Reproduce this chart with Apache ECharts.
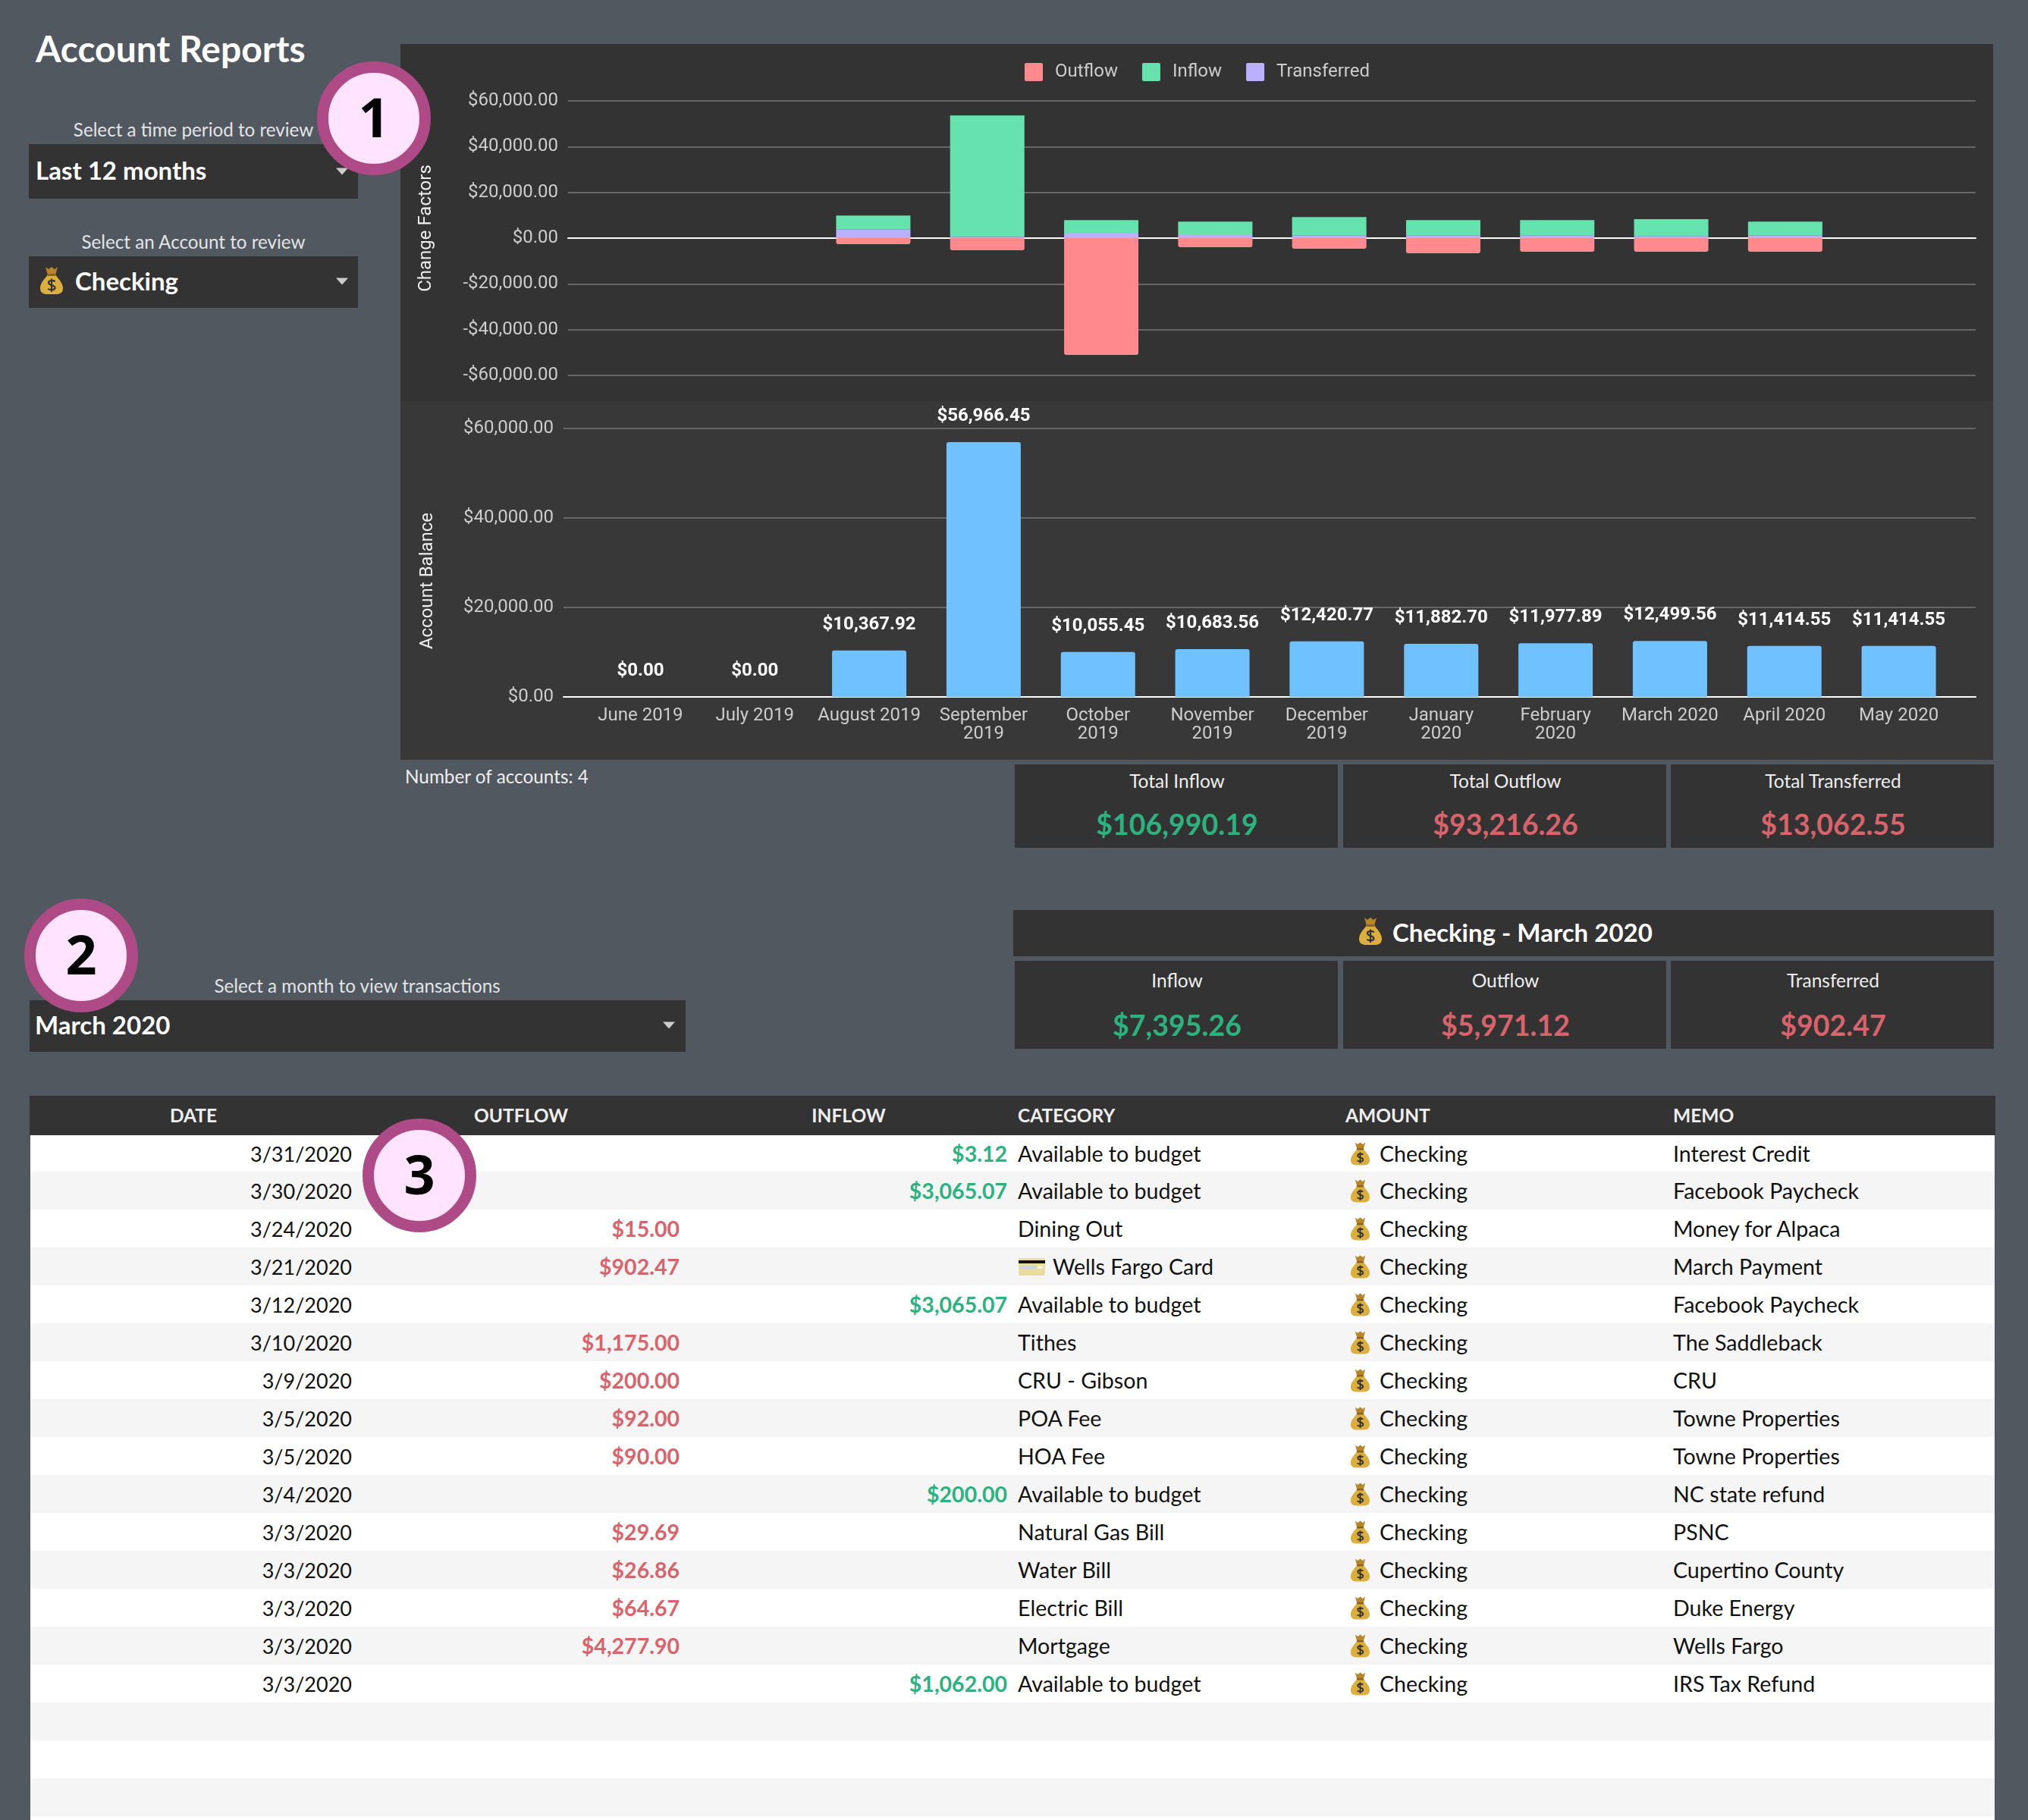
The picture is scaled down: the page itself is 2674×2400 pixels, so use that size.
<!DOCTYPE html>
<html>
<head>
<meta charset="utf-8">
<title>Account Reports</title>
<script src="https://cdn.jsdelivr.net/npm/echarts@6/dist/echarts.min.js"></script>
<style>
html, body { margin: 0; padding: 0; background: #51585f; }
#page { position: relative; width: 2674px; height: 2400px; overflow: hidden; background: #51585f;
    font-family: Lato, "Noto Sans", sans-serif; color: #fff; }
#page > * { position: absolute; }
.panel { background: #333; }
.txt { line-height: 1; white-space: nowrap; transform: translateY(-50%); }
.mid { transform: translate(-50%, -50%); }
.hint { font-size: 24.2px; color: #e2e4e6; }
.pick { font-size: 33px; font-weight: 700; }
.arrow { width: 0; height: 0; border-left: 8px solid transparent; border-right: 8px solid transparent;
    border-top: 9px solid #ccc; transform: translate(-50%, -50%); }
.badge { width: 120px; height: 120px; border: 15px solid #ae4a86; border-radius: 50%; background: #ffe3ff;
    color: #000; font-size: 72px; font-weight: 700; line-height: 114px; text-align: center;
    font-family: "Noto Sans", sans-serif; z-index: 5; }
.head { font-size: 24.5px; font-weight: 700; color: #eee; }
.cell { font-size: 28.6px; color: #111; }
.date { font-size: 27px; color: #111; }
.money { font-weight: 700; font-size: 28.5px; }
.row { left: 40px; width: 2590px; }
#chart { left: 528px; top: 58px; width: 2100px; height: 944px; }
</style>
</head>
<body>
<svg width="0" height="0" style="position:absolute">
    <symbol id="bag" viewBox="0 0 30 36">
        <path d="M7 0 L11 3 L15 0 L19 3 L23 0 L20 11 L10 11 Z" fill="#b8862a"/>
        <path d="M10 10 L20 10 C22 14 30 20 30 28 C30 34 26 36 21 36 L9 36 C4 36 0 34 0 28 C0 20 8 14 10 10 Z" fill="#dcae3e"/>
        <rect x="9.5" y="9" width="11" height="3" rx="1.5" fill="#8a6420"/>
        <path d="M19.5 19.5 C18.5 17.5 11 17 11 20.8 C11 24.8 19.5 23.2 19.5 27.5 C19.5 31 12 30.8 10.5 28.5 M15 15.5 L15 33" fill="none" stroke="#333" stroke-width="2.2"/>
    </symbol>
    <symbol id="card" viewBox="0 0 35 23">
        <rect width="35" height="23" rx="2" fill="#e9dc9e"/>
        <rect y="3" width="35" height="4" fill="#111"/>
        <rect x="3" y="10" width="20" height="4" fill="#c9d4e6"/>
        <rect x="25" y="10" width="7" height="4" fill="#f6f2dc"/>
    </symbol>
</svg>
<div id="page"></div>

<script>
// chart values
const MONTHS = ['June 2019', 'July 2019', 'August 2019', 'September\n2019', 'October\n2019', 'November\n2019',
    'December\n2019', 'January\n2020', 'February\n2020', 'March 2020', 'April 2020', 'May 2020'];
const OUTFLOW = [null, null, -2650, -5300, -51050, -3980, -4640, -6630, -5970, -5971.12, -5970, null];
const INFLOW = [null, null, 5970, 53040, 5860, 5860, 7950, 6630, 6630, 7395.26, 5970, null];
const TRANSFERRED = [null, null, 3870, 550, 1990, 1330, 1215, 1215, 1215, 902.47, 1215, null];
const BALANCE = [0, 0, 10367.92, 56966.45, 10055.45, 10683.56, 12420.77, 11882.70, 11977.89, 12499.56, 11414.55, 11414.55];
const CHANGE_TICKS = { min: -60000, max: 60000, step: 20000 };
const BALANCE_TICKS = { min: 0, max: 60000, step: 20000 };

// summary tiles
const TOTAL_LABELS = ['Total Inflow', 'Total Outflow', 'Total Transferred'];
const TOTAL_VALUES = ['$106,990.19', '$93,216.26', '$13,062.55'];
const MONTH_LABELS = ['Inflow', 'Outflow', 'Transferred'];
const MONTH_VALUES = ['$7,395.26', '$5,971.12', '$902.47'];

// transactions table
const DATES = ['3/31/2020', '3/30/2020', '3/24/2020', '3/21/2020', '3/12/2020', '3/10/2020', '3/9/2020', '3/5/2020',
    '3/5/2020', '3/4/2020', '3/3/2020', '3/3/2020', '3/3/2020', '3/3/2020', '3/3/2020'];
const TX_OUT = ['', '', '$15.00', '$902.47', '', '$1,175.00', '$200.00', '$92.00', '$90.00', '', '$29.69', '$26.86',
    '$64.67', '$4,277.90', ''];
const TX_IN = ['$3.12', '$3,065.07', '', '', '$3,065.07', '', '', '', '', '$200.00', '', '', '', '', '$1,062.00'];
const TX_CAT = ['Available to budget', 'Available to budget', 'Dining Out', 'Wells Fargo Card', 'Available to budget',
    'Tithes', 'CRU - Gibson', 'POA Fee', 'HOA Fee', 'Available to budget', 'Natural Gas Bill', 'Water Bill',
    'Electric Bill', 'Mortgage', 'Available to budget'];
const TX_MEMO = ['Interest Credit', 'Facebook Paycheck', 'Money for Alpaca', 'March Payment', 'Facebook Paycheck',
    'The Saddleback', 'CRU', 'Towne Properties', 'Towne Properties', 'NC state refund', 'PSNC', 'Cupertino County',
    'Duke Energy', 'Wells Fargo', 'IRS Tax Refund'];

const page = document.getElementById('page');
const GREEN = '#2bb27f';
const RED = '#d9636a';
const ROBOTO = 'Roboto, sans-serif';
const SWATCH = 'path://M2 0H22A2 2 0 0 1 24 2V22A2 2 0 0 1 22 24H2A2 2 0 0 1 0 22V2A2 2 0 0 1 2 0Z';

function add(cls, style, text) {
    const el = document.createElement('div');
    el.className = cls;
    Object.assign(el.style, style);
    if (text !== undefined) el.textContent = text;
    page.appendChild(el);
    return el;
}
function box(x, y, w, h, bg) {
    return add('panel', { left: x + 'px', top: y + 'px', width: w + 'px', height: h + 'px', background: bg || '#333' });
}
function label(cls, x, y, text, extra) {
    return add('txt ' + cls, Object.assign({ left: x + 'px', top: y + 'px' }, extra), text);
}
function icon(id, x, y, w, h) {
    const wrap = add('', { left: x + 'px', top: y + 'px', width: w + 'px', height: h + 'px' });
    wrap.innerHTML = `<svg width="${w}" height="${h}" class="${id}"><use href="#${id}"/></svg>`;
}
function arrow(x, y) {
    add('arrow', { left: x + 'px', top: y + 'px' });
}
function badge(cx, cy, n) {
    add('badge', { left: (cx - 75) + 'px', top: (cy - 75) + 'px' }, n);
}
function tiles(y, h, labelY, valueY, labels, values, colors) {
    [1338, 1771, 2203].forEach((x, i) => {
        box(x, y, 426, h);
        label('mid', x + 214, labelY, labels[i], { fontSize: '24.5px', color: '#eee' });
        label('mid', x + 214, valueY, values[i], { fontSize: '37.5px', fontWeight: 700, color: colors[i] });
    });
}

// left column and titles
label('', 47, 64, 'Account Reports', { fontSize: '48px', fontWeight: 700 });
label('mid hint', 255, 171, 'Select a time period to review');
box(38, 190, 434, 72);
label('pick', 47, 224, 'Last 12 months');
arrow(451, 226);
label('mid hint', 255, 319, 'Select an Account to review');
box(38, 338, 434, 68);
icon('bag', 53, 352, 30, 36);
label('pick', 99, 370, 'Checking');
arrow(451, 371);

// chart panel, top and bottom halves differ a little
box(528, 58, 2100, 472, '#333');
box(528, 530, 2100, 472, '#383838');
label('', 534, 1024, 'Number of accounts: 4', { fontSize: '24.3px', color: '#eee' });

tiles(1008, 110, 1030, 1087, TOTAL_LABELS, TOTAL_VALUES, [GREEN, RED, RED]);

// month section
label('mid hint', 471, 1300, 'Select a month to view transactions');
box(39, 1319, 865, 68);
label('pick', 46, 1351, 'March 2020');
arrow(882, 1352);
box(1336, 1200, 1293, 61);
icon('bag', 1792, 1209, 30, 38);
label('', 1836, 1229, 'Checking - March 2020', { fontSize: '33px', fontWeight: 700 });
tiles(1267, 116, 1293, 1352, MONTH_LABELS, MONTH_VALUES, [GREEN, RED, RED]);

// table
box(39, 1445, 2592, 52);
label('mid head', 255, 1471, 'DATE');
label('mid head', 687, 1471, 'OUTFLOW');
label('mid head', 1119, 1471, 'INFLOW');
label('head', 1342, 1471, 'CATEGORY');
label('head', 1774, 1471, 'AMOUNT');
label('head', 2206, 1471, 'MEMO');

add('row', { top: '1497px', height: '903px', background: '#fff' });
for (let i = 1; i < 19; i += 2) {
    add('row', { top: (1545 + 50 * (i - 1)) + 'px', height: '50px', background: '#f5f5f5' });
}
DATES.forEach((date, i) => {
    const y = i === 0 ? 1520.5 : 1570 + 50 * (i - 1);
    const right = (x) => ({ right: (2674 - x) + 'px' });
    label('date', 0, y, date, Object.assign({ left: 'auto' }, right(464)));
    if (TX_OUT[i]) label('money', 0, y, TX_OUT[i], Object.assign({ left: 'auto', color: RED }, right(896)));
    if (TX_IN[i]) label('money', 0, y, TX_IN[i], Object.assign({ left: 'auto', color: GREEN }, right(1328)));
    if (TX_CAT[i] === 'Wells Fargo Card') {
        icon('card', 1343, y - 11, 35, 23);
        label('cell', 1388, y, TX_CAT[i]);
    } else {
        label('cell', 1342, y, TX_CAT[i]);
    }
    icon('bag', 1781, y - 15, 25, 31);
    label('cell', 1819, y, 'Checking');
    label('cell', 2206, y, TX_MEMO[i]);
});

badge(493, 156, '1');
badge(107, 1260, '2');
badge(553, 1550, '3');

// charts
const chartEl = add('', { left: '528px', top: '58px', width: '2100px', height: '944px' });
chartEl.id = 'chart';
const chart = echarts.init(chartEl, null, { renderer: 'canvas' });

function usd(v) {
    const s = Math.abs(v).toLocaleString('en-US', { minimumFractionDigits: 2, maximumFractionDigits: 2 });
    return (v < 0 ? '-$' : '$') + s;
}
const tickText = { color: '#ccc', fontFamily: ROBOTO, fontSize: 24 };
const gridLine = { show: true, lineStyle: { color: '#666', width: 2 } };
const zeroLine = { show: true, onZero: true, lineStyle: { color: '#fff', width: 2 } };

function hiddenCategory(gridIndex) {
    return { type: 'category', gridIndex, data: MONTHS, show: false };
}
function yScale(ticks, gridIndex, extra) {
    return Object.assign({
        type: 'value', gridIndex, min: ticks.min, max: ticks.max, interval: ticks.step,
        axisLine: { show: false }, axisTick: { show: false },
    }, extra);
}
function yVisible(ticks, gridIndex, name, nameGap, namePadding, labelMargin) {
    return yScale(ticks, gridIndex, {
        name, nameLocation: 'middle', nameGap,
        nameTextStyle: { color: '#eee', fontFamily: ROBOTO, fontSize: 24, padding: namePadding },
        splitLine: gridLine,
        axisLabel: Object.assign({ margin: labelMargin, formatter: usd, padding: [3, 0, 0, 0] }, tickText),
    });
}
function yHidden(ticks, gridIndex) {
    return yScale(ticks, gridIndex, { show: false, splitLine: { show: false } });
}
function stackBar(name, data, color, radius) {
    return {
        name, type: 'bar', data, stack: 'change', xAxisIndex: 1, yAxisIndex: 1, barWidth: 98,
        itemStyle: { color, borderRadius: radius },
    };
}

chart.setOption({
    animation: false,
    backgroundColor: 'transparent',
    legend: {
        left: 818, top: 20, itemWidth: 24, itemHeight: 24, itemGap: 32,
        data: ['Outflow', 'Inflow', 'Transferred'],
        icon: SWATCH,
        textStyle: { color: '#ccc', fontFamily: ROBOTO, fontSize: 24, padding: [0, 0, 0, 11] },
    },
    // each chart has a wide grid for the rules and a narrower one that holds the bars
    grid: [
        { left: 221, top: 75, width: 1856, height: 362 },
        { left: 247.7, top: 75, width: 1803.6, height: 362 },
        { left: 215, top: 507, width: 1862, height: 354 },
        { left: 241, top: 507, width: 1810, height: 354 },
    ],
    xAxis: [
        { type: 'category', gridIndex: 0, data: MONTHS, axisLine: zeroLine, axisTick: { show: false }, axisLabel: { show: false } },
        hiddenCategory(1),
        { type: 'category', gridIndex: 2, data: MONTHS, axisLine: zeroLine, axisTick: { show: false }, axisLabel: { show: false } },
        {
            type: 'category', gridIndex: 3, data: MONTHS, axisLine: { show: false }, axisTick: { show: false },
            axisLabel: Object.assign({ interval: 0, margin: 13, lineHeight: 24 }, tickText),
        },
    ],
    yAxis: [
        yVisible(CHANGE_TICKS, 0, 'Change Factors', 175, [0, 0, 0, 26], 13),
        yHidden(CHANGE_TICKS, 1),
        yVisible(BALANCE_TICKS, 2, 'Account Balance', 167, [0, 48, 0, 0], 13),
        yHidden(BALANCE_TICKS, 3),
    ],
    series: [
        stackBar('Outflow', OUTFLOW, '#ff8a8e', [0, 0, 3, 3]),
        stackBar('Transferred', TRANSFERRED, '#bbb0ff', 0),
        stackBar('Inflow', INFLOW, '#66e2ae', 0),
        {
            name: 'Balance', type: 'bar', data: BALANCE, xAxisIndex: 3, yAxisIndex: 3, barWidth: 98,
            itemStyle: { color: '#70c1ff', borderRadius: [3, 3, 0, 0] },
            label: {
                show: true, position: 'top', distance: 22, color: '#fff', fontFamily: ROBOTO, fontSize: 24, fontWeight: 700,
                formatter: p => usd(p.value),
            },
        },
    ],
});
</script>
</body>
</html>
